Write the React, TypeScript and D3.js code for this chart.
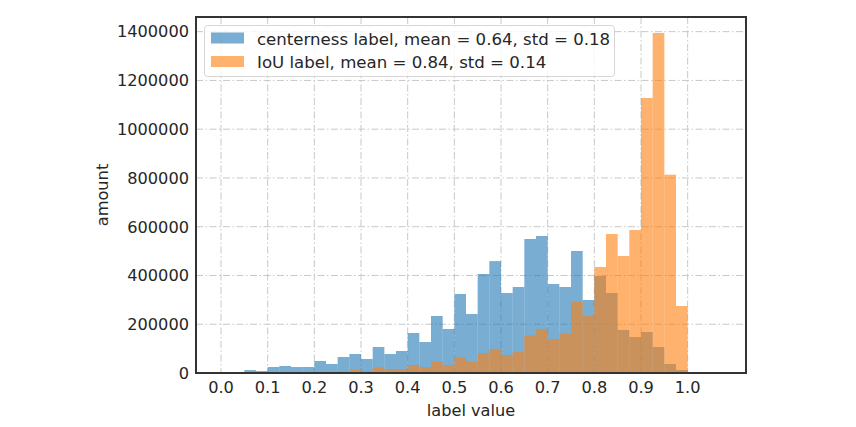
import * as d3 from "d3";

// 40 bins of width 0.025 over [0, 1]
const binEdges = d3.range(0, 41).map((i) => i / 40);

const centernessCounts = [
  1500, 4000, 12000, 8000, 24600, 28700, 24600, 24600, 49200, 36900,
  65600, 78000, 57400, 106600, 77900, 90200, 164000, 127000, 233800, 180500,
  324000, 242000, 406000, 459000, 328000, 352700, 549600, 562000, 365000, 352700,
  500400, 299400, 398000, 328000, 176400, 147700, 168200, 106600, 36900, 12300,
];

const iouCounts = [
  0, 0, 0, 0, 0, 1500, 2000, 2500, 5000, 6000,
  8000, 13700, 8000, 21900, 16400, 16400, 32800, 24600, 46500, 32800,
  62900, 46500, 82000, 98400, 73800, 86100, 153000, 180500, 139500, 161000,
  291200, 233800, 434800, 570000, 480000, 586500, 1128000, 1394600, 813500, 274800,
];

const xTicks = [0, 0.1, 0.2, 0.3, 0.4, 0.5, 0.6, 0.7, 0.8, 0.9, 1.0];
const yTicks = [0, 200000, 400000, 600000, 800000, 1000000, 1200000, 1400000];

const legendLabels = [
  "centerness label, mean = 0.64, std = 0.18",
  "IoU label, mean = 0.84, std = 0.14",
];

const W = 856;
const H = 427;
const margin = { left: 196, right: 110, top: 17, bottom: 54 };
const font = "'DejaVu Sans', sans-serif";
const textColor = "#262626";
const blue = "#1f77b4";
const orange = "#ff7f0e";

export default function App() {
  const x = d3
    .scaleLinear()
    .domain([-0.0536, 1.125])
    .range([margin.left, W - margin.right]);
  const y = d3
    .scaleLinear()
    .domain([0, d3.max(iouCounts)! * 1.047])
    .range([H - margin.bottom, margin.top]);

  const series = [
    { counts: centernessCounts, color: blue },
    { counts: iouCounts, color: orange },
  ];

  const x0 = margin.left;
  const x1 = W - margin.right;
  const y0 = H - margin.bottom;
  const y1 = margin.top;

  return (
    <svg
      width={W}
      height={H}
      style={{ position: "absolute", left: 0, top: 0, background: "#fff" }}
      fontFamily={font}
    >
      {/* grid */}
      <g stroke="#c8c8c8" strokeWidth={1} strokeDasharray="7 2.5 1.5 2.5">
        {xTicks.map((t) => (
          <line key={"gx" + t} x1={x(t)} x2={x(t)} y1={y1} y2={y0} />
        ))}
        {yTicks.map((t) => (
          <line key={"gy" + t} x1={x0} x2={x1} y1={y(t)} y2={y(t)} />
        ))}
      </g>

      {/* histograms */}
      {series.map((s, si) => (
        <g key={si} fill={s.color} fillOpacity={0.6}>
          {s.counts.map((c, i) =>
            c > 0 ? (
              <rect
                key={i}
                x={x(binEdges[i])}
                width={x(binEdges[i + 1]) - x(binEdges[i])}
                y={y(c)}
                height={y(0) - y(c)}
              />
            ) : null
          )}
        </g>
      ))}

      {/* frame */}
      <rect
        x={x0}
        y={y1}
        width={x1 - x0}
        height={y0 - y1}
        fill="none"
        stroke="#333333"
        strokeWidth={2}
      />

      {/* tick labels */}
      <g fontSize={16.2} fill={textColor}>
        {xTicks.map((t) => (
          <text key={"tx" + t} x={x(t)} y={393} textAnchor="middle">
            {d3.format(".1f")(t)}
          </text>
        ))}
        {yTicks.map((t) => (
          <text
            key={"ty" + t}
            x={x0 - 7}
            y={y(t)}
            dy="0.36em"
            textAnchor="end"
          >
            {t}
          </text>
        ))}
      </g>

      {/* axis labels */}
      <text
        x={(x0 + x1) / 2}
        y={416}
        textAnchor="middle"
        fontSize={16.2}
        fill={textColor}
      >
        label value
      </text>
      <text
        transform={`translate(108,${(y0 + y1) / 2}) rotate(-90)`}
        textAnchor="middle"
        fontSize={16.2}
        fill={textColor}
      >
        amount
      </text>

      {/* legend */}
      <g>
        <rect
          x={204.5}
          y={25.5}
          width={410}
          height={51}
          rx={3}
          fill="#fff"
          fillOpacity={0.8}
          stroke="#cccccc"
          strokeOpacity={0.8}
        />
        {legendLabels.map((lab, i) => (
          <g key={lab} transform={`translate(0,${i * 23.5})`}>
            <rect
              x={211}
              y={32.5}
              width={33}
              height={11}
              fill={series[i].color}
              fillOpacity={0.6}
            />
            <text x={257} y={44.5} fontSize={16.6} fill={textColor}>
              {lab}
            </text>
          </g>
        ))}
      </g>
    </svg>
  );
}
